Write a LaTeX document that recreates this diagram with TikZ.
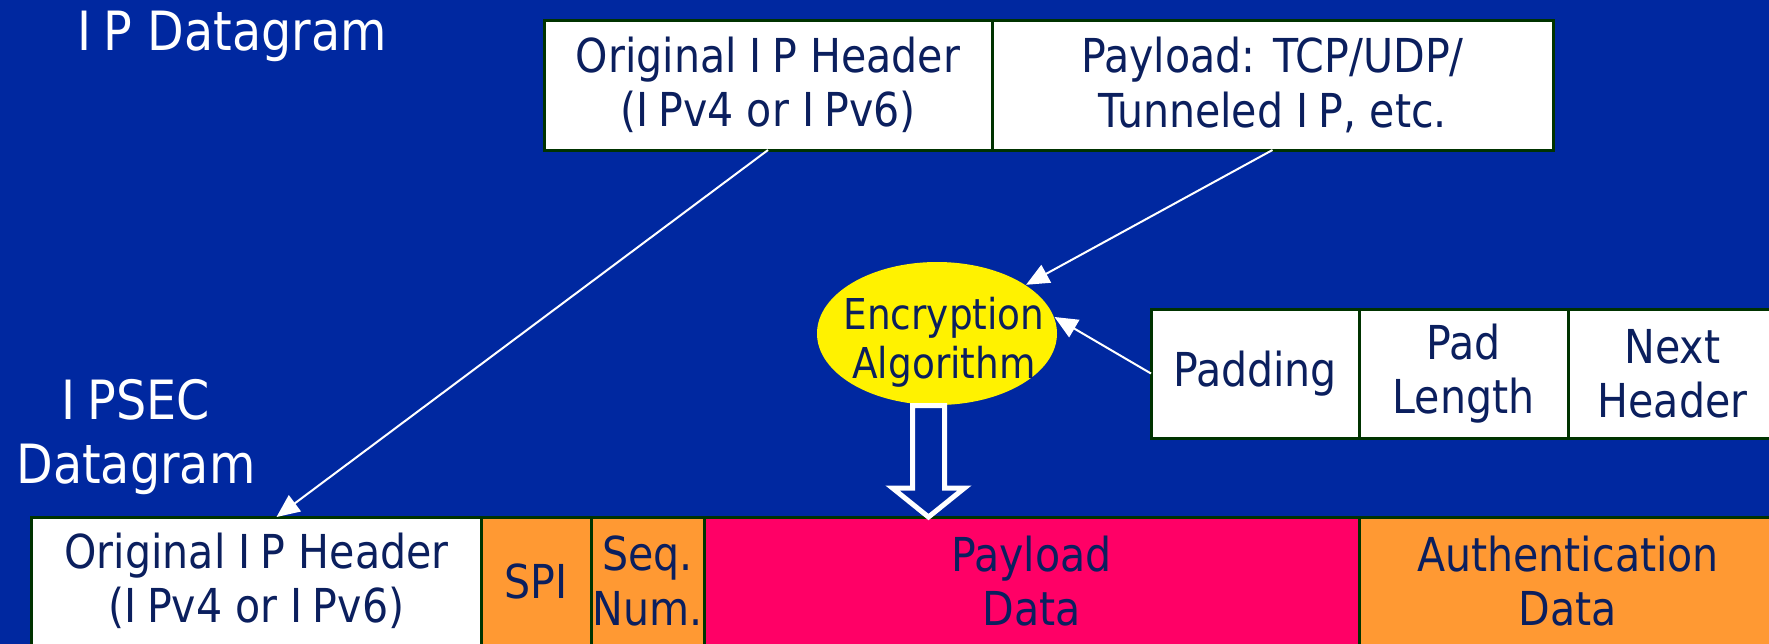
\documentclass[tikz,border=0pt]{standalone}
\usepackage{fontspec}
\setmainfont{DejaVu Sans}[FakeStretch=0.88]
\usepackage{tikz}
\usetikzlibrary{calc, positioning, arrows.meta, shapes.geometric}
\definecolor{slide}{HTML}{0028A0}
\definecolor{ink}{HTML}{0B1F5E}
\definecolor{edge}{HTML}{003300}
\definecolor{peach}{HTML}{FF9933}
\definecolor{rose}{HTML}{FF0066}
\newcommand{\boxfont}{\fontsize{13.3}{15.4}\selectfont}
\newcommand{\encfont}{\fontsize{12.1}{13.9}\selectfont}
\newcommand{\titlefont}{\fontsize{15.4}{18.2}\selectfont}
\newcommand{\Ip}{I\kern0.22em P}
\tikzstyle{cell}=[draw=edge, line width=0.3mm, fill=white, text=ink, shape=rectangle, outer sep=0pt, inner sep=0pt, align=center, minimum height=13mm, font=\boxfont]
\tikzstyle{ttl}=[text=white, inner sep=0pt, font=\titlefont, align=center]
\tikzstyle{wire}=[white, line width=0.2mm, ->]
\tikzset{>={Triangle[length=2.3mm, width=2mm]}}

\begin{document}
\begin{tikzpicture}[x=1mm, y=-1mm]
\useasboundingbox (0,0) rectangle (176.9,64.3);
\fill[slide] (-2,-2) rectangle (179,66);
\clip (0,0) rectangle (176.9,64.3);

\node[ttl, anchor=base west] (ipd) at (7.7,5.0) {\Ip{} Datagram};
\node[ttl, anchor=base] (ipsec) at (13.6,48.3) {\Ip SEC\\Datagram};

\node[cell, minimum width=44.8mm] (thdr) at (76.8,8.5) {Original \Ip{} Header\\(\Ip v4 or \Ip v6)};
\node[cell, minimum width=56.1mm, right=0pt of thdr] (tpay) {Payload: TCP/UDP/\\Tunneled \Ip, etc.};

\node[cell, minimum width=20.8mm, minimum height=12.9mm] (pad) at (125.5,37.35) {Padding};
\node[cell, minimum width=20.9mm, minimum height=12.9mm, right=0pt of pad] (plen) {Pad\\Length};
\node[cell, minimum width=20.9mm, minimum height=12.9mm, right=0pt of plen] (nxt) {Next\\Header};

\node[cell, minimum width=44.9mm, minimum height=12.8mm] (bhdr) at (25.65,58.1) {Original \Ip{} Header\\(\Ip v4 or \Ip v6)};
\node[cell, fill=peach, minimum width=11mm, minimum height=12.8mm, right=0pt of bhdr] (bspi) {SPI};
\node[cell, fill=peach, minimum width=11.3mm, minimum height=12.8mm, right=0pt of bspi] (bseq) {Seq.\\Num.};
\node[cell, fill=rose, minimum width=65.5mm, minimum height=12.8mm, right=0pt of bseq] (bpay) {Payload\\Data};
\node[cell, fill=peach, minimum width=41.8mm, minimum height=12.8mm, right=0pt of bpay] (bauth) {Authentication\\Data};

\node[ellipse, fill=yellow, text=ink, font=\encfont, minimum width=24mm, minimum height=14.3mm, inner xsep=-3mm, inner ysep=-1mm] (enc) at (93.7,33.35) {\kern1.4mm\raisebox{-2.1mm}[0pt][0pt]{\begin{tabular}{@{}c@{}}Encryption\\Algorithm\end{tabular}}};

% hollow arrow down into the payload
\coordinate (tip) at ($(enc.south |- bpay.north)+(-0.85,0)$);
\draw[white, line width=0.5mm, fill=slide, line join=miter] ($(enc.south)+(-2.45,0)$) -- ($(tip)+(-1.6,-2.9)$) -- ($(tip)+(-3.6,-2.9)$) -- (tip) -- ($(tip)+(3.6,-2.9)$) -- ($(tip)+(1.6,-2.9)$) -- ($(enc.south)+(0.75,0)$) -- cycle;

\draw[wire] (thdr.south) -- ($(bhdr.north)+(2,0)$);
\draw[wire] (tpay.south) -- (enc);
\draw[wire] (pad.west) -- (enc.8);
\end{tikzpicture}
\end{document}
